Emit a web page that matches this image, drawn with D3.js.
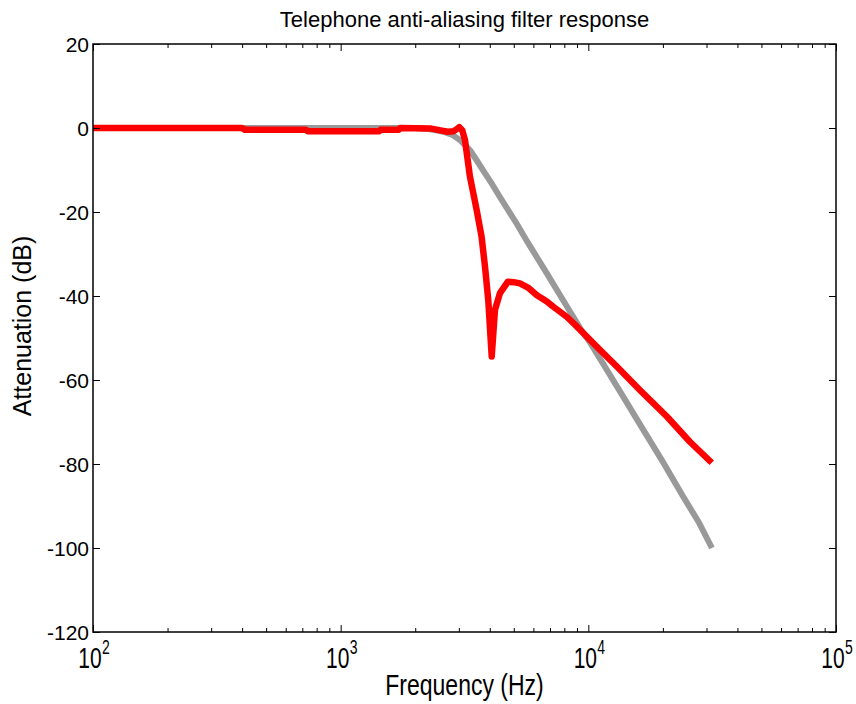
<!DOCTYPE html>
<html>
<head>
<meta charset="utf-8">
<script src="https://cdn.jsdelivr.net/npm/d3@7"></script>
<style>
  body { margin: 0; background: #fff; }
  svg { display: block; }
  text { font-family: "Liberation Sans", Arial, sans-serif; fill: #000; }
</style>
</head>
<body>
<div id="chart"></div>
<script>
// Ideal response (grey)
const grayFreq = [100, 400, 1000, 2000, 2300, 2600, 2840, 3050, 3330, 3550, 3770, 4100, 4400,
  5140, 5700, 6800, 8000, 9250, 10140, 12000, 14000, 16140, 20000, 24000, 28000, 31550];
const grayDb = [0, 0, 0, 0, -0.3, -0.9, -1.7, -3, -5.3, -7.8, -10.2, -13.5, -16.5,
  -22.8, -27.3, -34.6, -41.5, -47.6, -51, -58, -64.5, -70.5, -79.5, -87.5, -94, -100];

// Measured response (red)
const redFreq = [100, 400, 410, 720, 740, 1430, 1450, 1720, 1740, 2300, 2500, 2700, 2850, 2950,
  3013, 3100, 3177, 3327, 3540, 3707, 3826, 3945, 4073, 4198, 4397, 4734, 5000, 5293, 5704,
  6200, 6800, 7200, 8200, 9000, 9870, 11000, 13030, 16140, 20750, 25700, 31500];
const redDb = [0, 0, -0.4, -0.4, -0.8, -0.8, -0.4, -0.4, 0, -0.1, -0.5, -0.9, -0.8, -0.2,
  0.2, -0.6, -2.9, -11.6, -19.5, -25.9, -33, -41, -54.4, -43.3, -39.3, -36.6, -36.7, -37, -38,
  -39.8, -41.3, -42.5, -45, -47.3, -49.7, -52.5, -56.8, -62.4, -68.7, -74.7, -79.7];

const yTicks = [20, 0, -20, -40, -60, -80, -100, -120];
const xDecades = [100, 1000, 10000, 100000];
const xExponents = ["2", "3", "4", "5"];

const W = 856, H = 704;
const margin = { top: 44, right: 20, bottom: 72, left: 93 };

const svg = d3.select("#chart").append("svg")
  .attr("width", W)
  .attr("height", H);

const x = d3.scaleLog().domain([100, 100000]).range([margin.left, W - margin.right]);
const y = d3.scaleLinear().domain([-120, 20]).range([H - margin.bottom, margin.top]);

const line = d3.line()
  .x(d => x(d[0]))
  .y(d => y(d[1]));

svg.append("defs").append("clipPath").attr("id", "plotclip")
  .append("rect")
  .attr("x", x.range()[0]).attr("y", y.range()[1])
  .attr("width", x.range()[1] - x.range()[0])
  .attr("height", y.range()[0] - y.range()[1]);

const plot = svg.append("g").attr("clip-path", "url(#plotclip)");

plot.append("path")
  .datum(d3.zip(grayFreq, grayDb))
  .attr("fill", "none")
  .attr("stroke", "#999999")
  .attr("stroke-width", 6)
  .attr("stroke-linejoin", "round")
  .attr("d", line);

plot.append("path")
  .datum(d3.zip(redFreq, redDb))
  .attr("fill", "none")
  .attr("stroke", "#ff0000")
  .attr("stroke-width", 6.5)
  .attr("stroke-linejoin", "round")
  .attr("d", line);

// axes: ticks pointing inwards, on all four sides
const tickLen = 7, minorLen = 4;
const minorTicks = x.ticks().filter(t => !xDecades.includes(t));

const axisStyle = g => {
  g.select(".domain").remove();
  g.selectAll(".tick line").attr("stroke", "#000").attr("stroke-width", 1);
};

svg.append("g")
  .attr("transform", `translate(0,${y.range()[0]})`)
  .call(d3.axisTop(x).tickValues(xDecades).tickSize(tickLen).tickFormat(""))
  .call(axisStyle);
svg.append("g")
  .attr("transform", `translate(0,${y.range()[0]})`)
  .call(d3.axisTop(x).tickValues(minorTicks).tickSize(minorLen).tickFormat(""))
  .call(axisStyle);
svg.append("g")
  .attr("transform", `translate(0,${y.range()[1]})`)
  .call(d3.axisBottom(x).tickValues(xDecades).tickSize(tickLen).tickFormat(""))
  .call(axisStyle);
svg.append("g")
  .attr("transform", `translate(0,${y.range()[1]})`)
  .call(d3.axisBottom(x).tickValues(minorTicks).tickSize(minorLen).tickFormat(""))
  .call(axisStyle);

svg.append("g")
  .attr("transform", `translate(${x.range()[0]},0)`)
  .call(d3.axisRight(y).tickValues(yTicks).tickSize(tickLen).tickFormat(""))
  .call(axisStyle);
svg.append("g")
  .attr("transform", `translate(${x.range()[1]},0)`)
  .call(d3.axisLeft(y).tickValues(yTicks).tickSize(tickLen).tickFormat(""))
  .call(axisStyle);

// frame
svg.append("rect")
  .attr("x", x.range()[0]).attr("y", y.range()[1])
  .attr("width", x.range()[1] - x.range()[0])
  .attr("height", y.range()[0] - y.range()[1])
  .attr("fill", "none")
  .attr("stroke", "#000")
  .attr("stroke-width", 1.5);

// y tick labels
svg.append("g").selectAll("text")
  .data(yTicks)
  .join("text")
  .attr("x", x.range()[0] - 4)
  .attr("y", d => y(d))
  .attr("dy", "0.36em")
  .attr("text-anchor", "end")
  .style("font-size", "21px")
  .text(d => d);

// x tick labels 10^n
const xl = svg.append("g").selectAll("g")
  .data(xDecades)
  .join("g")
  .attr("transform", d => `translate(${x(d)},668) scale(1,1.4)`);
xl.append("text")
  .attr("text-anchor", "middle")
  .style("font-size", "21px")
  .attr("x", -3)
  .text("10");
xl.append("text")
  .attr("x", 9)
  .attr("y", -10)
  .style("font-size", "14px")
  .text((d, i) => xExponents[i]);

// titles
svg.append("text")
  .attr("x", (x.range()[0] + x.range()[1]) / 2)
  .attr("y", 27)
  .attr("text-anchor", "middle")
  .style("font-size", "22px")
  .text("Telephone anti-aliasing filter response");

svg.append("text")
  .attr("transform", `translate(${(x.range()[0] + x.range()[1]) / 2},695) scale(1,1.3)`)
  .attr("text-anchor", "middle")
  .style("font-size", "23px")
  .text("Frequency (Hz)");

svg.append("text")
  .attr("transform", `translate(31,326) rotate(-90)`)
  .attr("text-anchor", "middle")
  .style("font-size", "25px")
  .text("Attenuation (dB)");
</script>
</body>
</html>
